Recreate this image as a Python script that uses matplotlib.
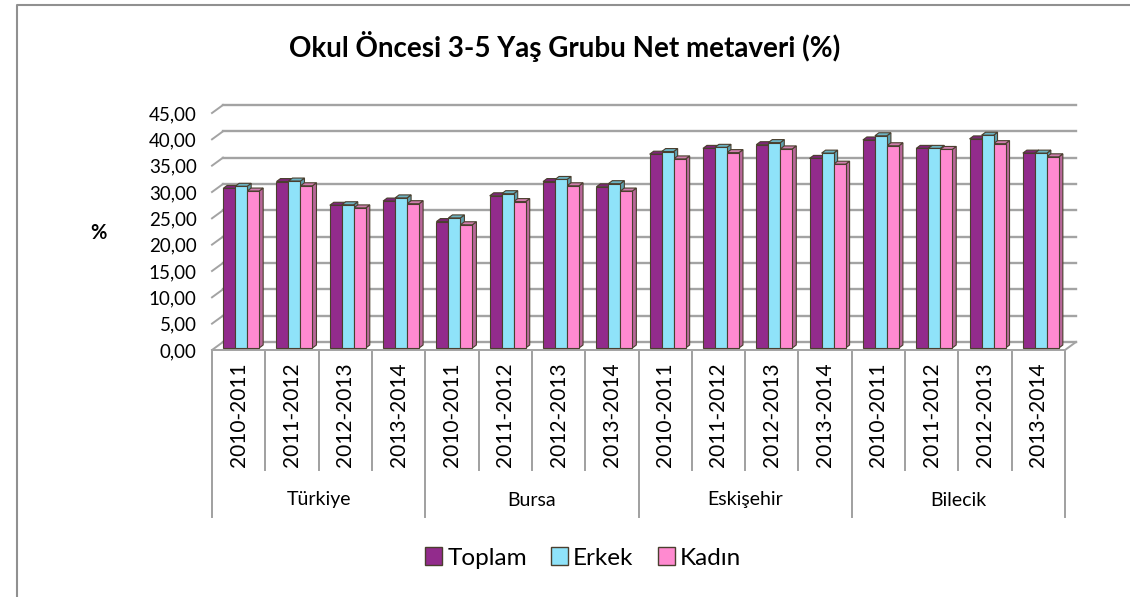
import matplotlib
matplotlib.use("Agg")
import matplotlib.pyplot as plt
from matplotlib.patches import Polygon, Patch
from matplotlib.lines import Line2D
from matplotlib.transforms import ScaledTranslation

plt.rcParams['font.family'] = ['Lato', 'DejaVu Sans']

groups = ["Türkiye", "Bursa", "Eskişehir", "Bilecik"]
years = ["2010-2011", "2011-2012", "2012-2013", "2013-2014"]
series_names = ["Toplam", "Erkek", "Kadın"]
toplam = [30.3, 31.6, 27.1, 27.9, 24.0, 28.9, 31.6, 30.6, 36.8, 37.9, 38.6, 36.0, 39.5, 37.9, 39.7, 37.0]
erkek  = [30.7, 31.7, 27.2, 28.5, 24.7, 29.3, 32.0, 31.2, 37.3, 38.1, 39.0, 37.0, 40.3, 37.9, 40.4, 37.0]
kadin  = [29.8, 30.8, 26.6, 27.4, 23.4, 27.8, 30.8, 29.8, 35.9, 37.1, 37.8, 34.9, 38.4, 37.7, 38.8, 36.3]
yticks = [0, 5, 10, 15, 20, 25, 30, 35, 40, 45]

front = ["#922B8C", "#8FE3F9", "#FF8AD0"]
side = ["#6B1F67", "#5F9FAE", "#B9679A"]
topc = ["#7E2578", "#6CB3C3", "#D07DAD"]
edge = "#4a3f2e"

W, H = 1130, 597
fig = plt.figure(figsize=(W / 100, H / 100), dpi=100)
x0, x1, y0, y1 = 212, 1065, 350, 113
ax = fig.add_axes([x0 / W, (H - y0) / H, (x1 - x0) / W, (y0 - y1) / H])
ncat = len(groups) * len(years)
ax.set_xlim(-0.5, ncat - 0.5)
ax.set_ylim(0, 45)
pxx = (x1 - x0) / ncat
pxy = (y0 - y1) / 45.0
def py(ypix):
    return (y0 - ypix) / pxy

# wall offset
wdx, wdy = 11 / pxx, 8 / pxy
gc = "#a3a3a3"
for v in yticks:
    ax.plot([-0.5 + wdx, ncat - 0.5 + wdx], [v + wdy, v + wdy], color=gc, lw=1.7, clip_on=False, zorder=1)
    ax.plot([-0.5, -0.5 + wdx], [v, v + wdy], color=gc, lw=1.4, clip_on=False, zorder=1)
# floor
ax.plot([-0.5, ncat - 0.5], [0, 0], color=gc, lw=1.4, clip_on=False, zorder=1)
ax.plot([ncat - 0.5, ncat - 0.5 + wdx], [0, wdy], color=gc, lw=1.4, clip_on=False, zorder=1)

# bars
shift = ax.transData + ScaledTranslation(2.5 / 100, 2 / 100, fig.dpi_scale_trans)
bw = 12 / pxx
bdx, bdy = 4 / pxx, 3 / pxy
xs = list(range(ncat))
for i, vals in enumerate([toplam, erkek, kadin]):
    pos = [x + (i - 1) * bw for x in xs]
    bars = ax.bar(pos, vals, width=bw, color=front[i], edgecolor=edge, lw=0.8,
                  transform=shift, zorder=3, clip_on=False)
    for b in bars:
        bx, bwid, bh = b.get_x(), b.get_width(), b.get_height()
        s = Polygon([(bx + bwid, 0), (bx + bwid + bdx, bdy), (bx + bwid + bdx, bh + bdy), (bx + bwid, bh)],
                    closed=True, facecolor=side[i], edgecolor=edge, lw=0.8, transform=shift, zorder=2.9, clip_on=False)
        t = Polygon([(bx, bh), (bx + bdx, bh + bdy), (bx + bwid + bdx, bh + bdy), (bx + bwid, bh)],
                    closed=True, facecolor=topc[i], edgecolor=edge, lw=0.8, transform=shift, zorder=2.9, clip_on=False)
        ax.add_patch(s)
        ax.add_patch(t)

# category axis
lc = "#a0a0a0"
for k in range(ncat + 1):
    xb = -0.5 + k
    ybot = py(517) if k % 4 == 0 else py(470)
    ax.plot([xb, xb], [py(352), ybot], color=lc, lw=1.4, clip_on=False)
for j, x in enumerate(xs):
    ax.text(x, py(415), years[j % 4], rotation=90, ha='center', va='center', fontsize=15, clip_on=False)
for g, name in enumerate(groups):
    ax.text(g * 4 + 1.5, py(500), name, ha='center', va='center', fontsize=14, clip_on=False)

ax.set_xticks([])
ax.set_yticks(yticks)
ax.set_yticklabels([f"{v:.2f}".replace('.', ',') for v in yticks], fontsize=13.5)
ax.tick_params(axis='y', length=0, pad=11)
for sp in ax.spines.values():
    sp.set_visible(False)
ax.patch.set_visible(False)

fig.text(565 / W, 1 - 47 / H, "Okul Öncesi 3-5 Yaş Grubu Net metaveri (%)", ha='center', va='center',
         fontsize=20, fontweight='bold')
fig.text(98 / W, 1 - 233 / H, "%", ha='center', va='center', fontsize=14.5, fontweight='bold')

handles = [Patch(facecolor=front[i], edgecolor=edge, lw=1.0) for i in range(3)]
fig.legend(handles, series_names, loc='center', bbox_to_anchor=(583 / W, 1 - 558 / H), ncol=3,
           frameon=False, fontsize=17.5, handlelength=0.7, handleheight=0.7, handletextpad=0.2,
           columnspacing=1.0)

fig.add_artist(Line2D([17 / W, 17 / W, 1.0], [0, 1 - 5 / H, 1 - 5 / H], color="#909090", lw=1.5,
                      transform=fig.transFigure))

fig.savefig("out.png", dpi=100)
